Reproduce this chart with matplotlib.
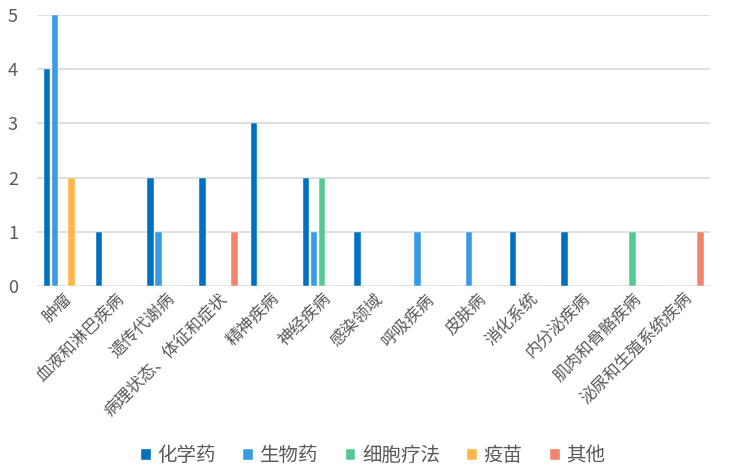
import matplotlib
matplotlib.use("Agg")
import matplotlib.pyplot as plt
import numpy as np

plt.rcParams['font.family'] = ['Noto Sans CJK SC', 'DejaVu Sans']

categories = ["肿瘤", "血液和淋巴疾病", "遗传代谢病", "病理状态、体征和症状", "精神疾病",
              "神经疾病", "感染领域", "呼吸疾病", "皮肤病", "消化系统", "内分泌疾病",
              "肌肉和骨骼疾病", "泌尿和生殖系统疾病"]
chem = [4, 1, 2, 2, 3, 2, 1, 0, 0, 1, 1, 0, 0]
bio = [5, 0, 1, 0, 0, 1, 0, 1, 1, 0, 0, 0, 0]
cell = [0, 0, 0, 0, 0, 2, 0, 0, 0, 0, 0, 1, 0]
vaccine = [2, 0, 0, 0, 0, 0, 0, 0, 0, 0, 0, 0, 0]
other = [0, 0, 0, 1, 0, 0, 0, 0, 0, 0, 0, 0, 1]
series_names = ["化学药", "生物药", "细胞疗法", "疫苗", "其他"]
colors = ["#0070C0", "#379BE6", "#55C994", "#FFB54D", "#F0846C"]

fig = plt.figure(figsize=(7.32, 4.72), dpi=100)
ax = fig.add_axes([0.051, 0.394, 0.919, 0.574])

x = np.arange(len(categories))
slot = 0.156
width = 0.125
for i, (vals, name, c) in enumerate(zip([chem, bio, cell, vaccine, other], series_names, colors)):
    ax.bar(x + (i - 2) * slot, vals, width, color=c, label=name, zorder=3,
           edgecolor='white', linewidth=0.3)

ax.set_xlim(-0.5, len(categories) - 0.5)
ax.set_ylim(0, 5)
ax.set_yticks(range(6))
ax.yaxis.grid(True, color='#D9D9D9', linewidth=1.2, zorder=0)
for s in ax.spines.values():
    s.set_visible(False)
ax.tick_params(axis='both', length=0, colors='#595959')
ax.tick_params(axis='y', labelsize=13, pad=14)
ax.set_xticks(x)
ax.set_xticklabels(categories, rotation=45, ha='right', rotation_mode='anchor', fontsize=12, color='#595959')
ax.tick_params(axis='x', pad=3)

leg = fig.legend(loc='lower center', bbox_to_anchor=(0.51, -0.025), ncol=5, frameon=False,
                 fontsize=14, handlelength=0.5, handleheight=0.5, handletextpad=0.35, columnspacing=1.4)
for t in leg.get_texts():
    t.set_color('#595959')

fig.savefig("out.png", dpi=100)
